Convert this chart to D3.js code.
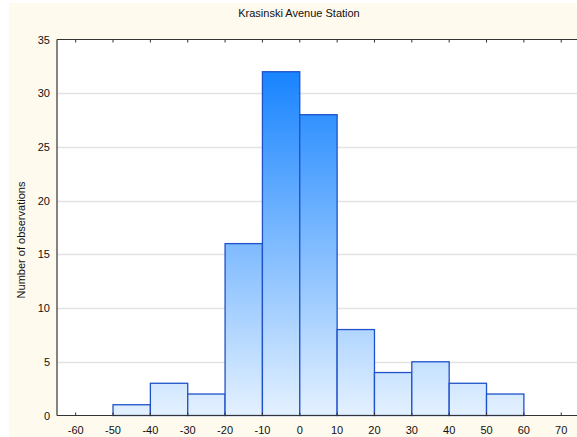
<!DOCTYPE html>
<html><head><meta charset="utf-8">
<script src="https://cdn.jsdelivr.net/npm/d3@7"></script>
<style>html,body{margin:0;padding:0;background:#fff;}</style>
</head><body>
<svg id="c" width="577" height="437"></svg>
<script>
const binStarts = [-50,-40,-30,-20,-10,0,10,20,30,40,50];
const binWidth = 10;
const counts = [1,3,2,16,32,28,8,4,5,3,2];
const xTicks = [-60,-50,-40,-30,-20,-10,0,10,20,30,40,50,60,70];
const yTicks = [0,5,10,15,20,25,30,35];
const title = "Krasinski Avenue Station";
const yLabel = "Number of observations";

const svg = d3.select("#c");
const W = 577, H = 437;
const m = {left:57, top:39.5, bottom:415.5};
const x = d3.scaleLinear().domain([-65,75]).range([m.left, m.left + 140*3.735]);
const y = d3.scaleLinear().domain([0,35]).range([m.bottom, m.top]);
const font = "'Liberation Sans', Arial, sans-serif";

svg.append("rect").attr("x",9).attr("y",3).attr("width",W-9).attr("height",H-3).attr("fill","#fffaee");
svg.append("rect").attr("x",m.left).attr("y",m.top).attr("width",W-m.left).attr("height",m.bottom-m.top).attr("fill","#ffffff");

const defs = svg.append("defs");
const g = defs.append("linearGradient").attr("id","bg").attr("gradientUnits","userSpaceOnUse")
  .attr("x1",0).attr("x2",0).attr("y1",y(0)).attr("y2",y(32));
g.append("stop").attr("offset","0%").attr("stop-color","#e4f1ff");
g.append("stop").attr("offset","100%").attr("stop-color","#1884ff");

// grid
svg.append("g").selectAll("line").data(yTicks.filter(d=>d>0 && d<35)).join("line")
  .attr("x1",m.left).attr("x2",W).attr("y1",d=>Math.round(y(d))+0.5).attr("y2",d=>Math.round(y(d))+0.5)
  .attr("stroke","#e3e3e3").attr("stroke-width",1.5);

// bars
svg.append("g").selectAll("rect").data(counts).join("rect")
  .attr("x",(d,i)=>x(binStarts[i]))
  .attr("width",(d,i)=>x(binStarts[i]+binWidth)-x(binStarts[i]))
  .attr("y",d=>y(d)).attr("height",d=>y(0)-y(d))
  .attr("fill","url(#bg)").attr("stroke","#1f52c8").attr("stroke-width",1.3);

// axes frame
const axc = "#333";
svg.append("line").attr("x1",m.left).attr("x2",m.left).attr("y1",m.top).attr("y2",m.bottom).attr("stroke",axc).attr("stroke-width",1.2);
svg.append("line").attr("x1",m.left).attr("x2",W).attr("y1",m.bottom).attr("y2",m.bottom).attr("stroke",axc).attr("stroke-width",1.2);
svg.append("line").attr("x1",m.left).attr("x2",W).attr("y1",m.top).attr("y2",m.top).attr("stroke",axc).attr("stroke-width",1.2);

// x ticks
svg.append("g").selectAll("line").data(xTicks).join("line")
  .attr("x1",d=>x(d)).attr("x2",d=>x(d)).attr("y1",m.bottom).attr("y2",m.bottom-3).attr("stroke",axc);
svg.append("g").selectAll("line").data(xTicks).join("line")
  .attr("x1",d=>x(d)).attr("x2",d=>x(d)).attr("y1",m.top).attr("y2",m.top+3).attr("stroke",axc);
svg.append("g").selectAll("text").data(xTicks).join("text")
  .attr("x",d=>x(d)).attr("y",434).attr("text-anchor","middle")
  .attr("font-family",font).attr("font-size",11).attr("fill","#111").text(d=>d);

// y labels
svg.append("g").selectAll("text").data(yTicks).join("text")
  .attr("x",50).attr("y",d=>y(d)+4).attr("text-anchor","end")
  .attr("font-family",font).attr("font-size",11).attr("fill","#111").text(d=>d);

svg.append("text").attr("x",299).attr("y",17).attr("text-anchor","middle")
  .attr("font-family",font).attr("font-size",11).attr("fill","#111").text(title);
svg.append("text").attr("transform","translate(25,240) rotate(-90)").attr("text-anchor","middle")
  .attr("font-family",font).attr("font-size",11).attr("fill","#111").text(yLabel);
</script>
</body></html>
